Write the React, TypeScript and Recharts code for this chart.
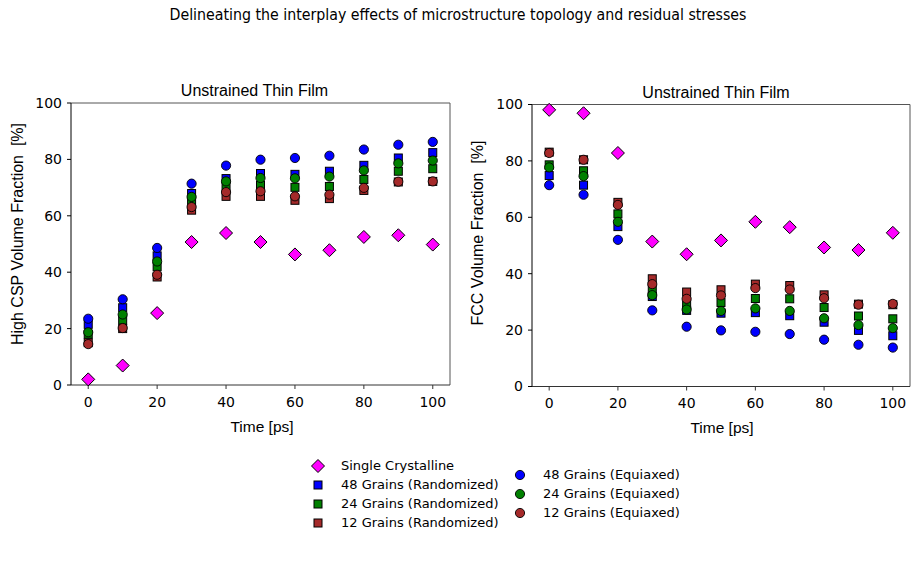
import React from "react";
import { ScatterChart, Scatter, XAxis, YAxis, ReferenceLine } from "recharts";

// Simulation times [ps]
const times = [0, 10, 20, 30, 40, 50, 60, 70, 80, 90, 100];
const xTicks = [0, 20, 40, 60, 80, 100];
const yTicks = [0, 20, 40, 60, 80, 100];

// High CSP volume fraction [%]
const cspSingle = [2, 6.9, 25.5, 50.7, 53.9, 50.7, 46.3, 47.8, 52.5, 53.1, 49.8];
const cspRand48 = [21.5, 27.4, 45.8, 67.9, 73.2, 75.0, 74.7, 75.8, 77.9, 80.5, 82.4];
const cspRand24 = [18, 23, 41.9, 64.9, 70.2, 70.8, 70.1, 70.4, 72.9, 75.8, 76.7];
const cspRand12 = [15, 20, 38.3, 62, 66.9, 66.9, 65.5, 66.1, 69, 72, 72.2];
const cspEqui48 = [23.5, 30.4, 48.6, 71.4, 77.8, 79.9, 80.5, 81.3, 83.5, 85.2, 86.2];
const cspEqui24 = [18.7, 25, 43.8, 66.7, 72.2, 73.4, 73.3, 73.9, 76.1, 78.6, 79.6];
const cspEqui12 = [14.5, 20.2, 39.1, 63.1, 68.4, 68.7, 66.9, 67.5, 69.9, 72.1, 72.2];

// FCC volume fraction [%]
const fccSingle = [98.1, 96.9, 82.8, 51.4, 46.9, 51.8, 58.4, 56.5, 49.3, 48.4, 54.5];
const fccRand48 = [74.8, 71.4, 56.7, 31.9, 27, 26, 26.2, 25.1, 22.8, 19.9, 18];
const fccRand24 = [78.6, 76.5, 61.2, 34.3, 29, 29.8, 31.2, 31.1, 28, 25, 24];
const fccRand12 = [83.1, 80.4, 65.3, 38.2, 33.5, 34.3, 36.3, 35.8, 32.5, 29.2, 29];
const fccEqui48 = [71.4, 68, 52, 27, 21.2, 19.9, 19.4, 18.6, 16.6, 14.8, 13.8];
const fccEqui24 = [77.7, 74.6, 58.4, 32.4, 27.3, 26.8, 27.7, 26.8, 24.2, 21.8, 20.7];
const fccEqui12 = [82.8, 80.4, 64.4, 36.3, 31.1, 32.3, 34.9, 34.4, 31.3, 29, 29.3];

const seriesNames = [
  "Single Crystalline",
  "48 Grains (Randomized)",
  "24 Grains (Randomized)",
  "12 Grains (Randomized)",
  "48 Grains (Equiaxed)",
  "24 Grains (Equiaxed)",
  "12 Grains (Equiaxed)",
];
const seriesColors = ["#ff00ff", "#0000ff", "#008000", "#a52a2a", "#0000ff", "#008000", "#a52a2a"];
const seriesShapes = ["diamond", "square", "square", "square", "circle", "circle", "circle"];

const cspSeries = [cspSingle, cspRand48, cspRand24, cspRand12, cspEqui48, cspEqui24, cspEqui12];
const fccSeries = [fccSingle, fccRand48, fccRand24, fccRand12, fccEqui48, fccEqui24, fccEqui12];

const toPoints = (vals: number[]) => times.map((t, i) => ({ t, v: vals[i] }));

function Marker({ kind, cx, cy, color }: { kind: string; cx: number; cy: number; color: string }) {
  if (cx == null || cy == null) return null;
  if (kind === "diamond") {
    const r = 6.5;
    return (
      <polygon
        points={`${cx},${cy - r} ${cx + r},${cy} ${cx},${cy + r} ${cx - r},${cy}`}
        fill={color}
        stroke="#000"
        strokeWidth={1}
      />
    );
  }
  if (kind === "square") {
    const h = 4;
    return <rect x={cx - h} y={cy - h} width={2 * h} height={2 * h} fill={color} stroke="#000" strokeWidth={1} />;
  }
  return <circle cx={cx} cy={cy} r={4.6} fill={color} stroke="#000" strokeWidth={0.9} />;
}

const tickStyle = { fontFamily: "DejaVu Sans", fontSize: 14, fill: "#000" };

function Panel({ data, margin }: { data: number[][]; margin: any }) {
  return (
    <div style={{ position: "absolute", left: 0, top: 0 }}>
      <ScatterChart width={918} height={566} margin={margin}>
        <XAxis
          type="number"
          dataKey="t"
          domain={[-5, 105]}
          ticks={xTicks}
          height={30}
          tick={tickStyle}
          tickSize={4}
          tickMargin={8}
          axisLine={{ stroke: "#333" }}
          tickLine={{ stroke: "#333" }}
        />
        <YAxis
          type="number"
          dataKey="v"
          domain={[0, 100]}
          ticks={yTicks}
          width={40}
          tick={tickStyle}
          tickSize={4}
          tickMargin={5}
          axisLine={{ stroke: "#000" }}
          tickLine={{ stroke: "#000" }}
        />
        <ReferenceLine y={100} stroke="#555" strokeWidth={1} />
        <ReferenceLine x={105} stroke="#555" strokeWidth={1} />
        {data.map((vals, i) => (
          <Scatter
            key={seriesNames[i]}
            name={seriesNames[i]}
            data={toPoints(vals)}
            isAnimationActive={false}
            shape={(p: any) => <Marker kind={seriesShapes[i]} cx={p.cx} cy={p.cy} color={seriesColors[i]} />}
          />
        ))}
      </ScatterChart>
    </div>
  );
}

function LegendMarker({ kind, color }: { kind: string; color: string }) {
  return (
    <svg width={16} height={16} style={{ display: "block" }}>
      <Marker kind={kind} cx={8} cy={8} color={color} />
    </svg>
  );
}

const legendCol1 = [0, 1, 2, 3];
const legendCol2 = [4, 5, 6];

export default function App() {
  const sans = "Liberation Sans, Arial, sans-serif";
  return (
    <div style={{ position: "absolute", left: 0, top: 0, width: 918, height: 566, background: "#fff", overflow: "hidden" }}>
      <Panel data={cspSeries} margin={{ top: 103, left: 31, right: 468, bottom: 151 }} />
      <Panel data={fccSeries} margin={{ top: 104.5, left: 492, right: 8, bottom: 149.5 }} />
      <svg width={918} height={566} style={{ position: "absolute", left: 0, top: 0, pointerEvents: "none" }}>
        <text x={458} y={20} textAnchor="middle" fontFamily="DejaVu Sans Condensed, DejaVu Sans" fontSize={15} textLength={577} lengthAdjust="spacingAndGlyphs">
          Delineating the interplay effects of microstructure topology and residual stresses
        </text>
        <text x={254.5} y={96} textAnchor="middle" fontFamily={sans} fontSize={16}>Unstrained Thin Film</text>
        <text x={716} y={98} textAnchor="middle" fontFamily={sans} fontSize={16}>Unstrained Thin Film</text>
        <text x={262} y={432} textAnchor="middle" fontFamily={sans} fontSize={15.5}>Time [ps]</text>
        <text x={722} y={433} textAnchor="middle" fontFamily={sans} fontSize={15.5}>Time [ps]</text>
        <text transform="translate(23,234) rotate(-90)" textAnchor="middle" fontFamily={sans} fontSize={16} style={{ whiteSpace: "pre" }}>
          {"High CSP Volume Fraction  [%]"}
        </text>
        <text transform="translate(483,233) rotate(-90)" textAnchor="middle" fontFamily={sans} fontSize={16} style={{ whiteSpace: "pre" }}>
          {"FCC Volume Fraction  [%]"}
        </text>
      </svg>
      <div style={{ position: "absolute", left: 310, top: 456, fontFamily: "DejaVu Sans", fontSize: 13 }}>
        {legendCol1.map((i) => (
          <div key={i} style={{ display: "flex", alignItems: "center", height: 19 }}>
            <LegendMarker kind={seriesShapes[i]} color={seriesColors[i]} />
            <span style={{ marginLeft: 15 }}>{seriesNames[i]}</span>
          </div>
        ))}
      </div>
      <div style={{ position: "absolute", left: 512, top: 465, fontFamily: "DejaVu Sans", fontSize: 13 }}>
        {legendCol2.map((i) => (
          <div key={i} style={{ display: "flex", alignItems: "center", height: 19 }}>
            <LegendMarker kind={seriesShapes[i]} color={seriesColors[i]} />
            <span style={{ marginLeft: 15 }}>{seriesNames[i]}</span>
          </div>
        ))}
      </div>
    </div>
  );
}
